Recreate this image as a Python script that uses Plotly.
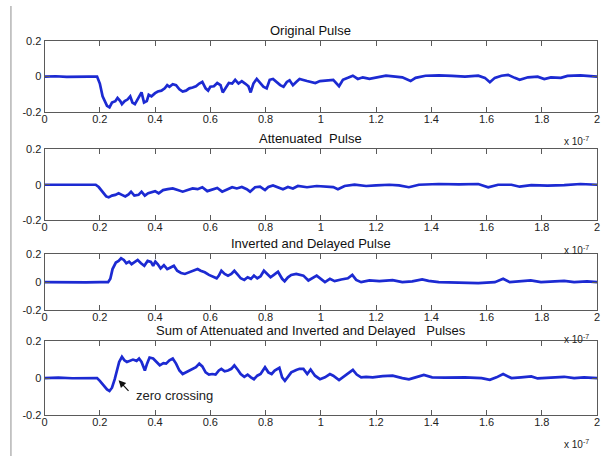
import plotly.graph_objects as go

# time axis in units of 1e-7 s
orig_t = [0, 0.04, 0.08, 0.12, 0.16, 0.19, 0.20, 0.21, 0.226, 0.235, 0.244, 0.256, 0.264, 0.274, 0.28, 0.29, 0.30, 0.31,
          0.318, 0.327, 0.34, 0.351, 0.36, 0.37, 0.377, 0.387, 0.40, 0.41, 0.423, 0.435, 0.444, 0.452, 0.464, 0.476,
          0.488, 0.50, 0.512, 0.524, 0.536, 0.548, 0.56, 0.571, 0.583, 0.592, 0.60, 0.613, 0.625, 0.637, 0.645, 0.655,
          0.667, 0.679, 0.69, 0.702, 0.714, 0.726, 0.738, 0.746, 0.756, 0.768, 0.777, 0.792, 0.804, 0.815, 0.827,
          0.839, 0.853, 0.865, 0.877, 0.887, 0.899, 0.911, 0.923, 0.95, 0.98, 0.997, 1.02, 1.045, 1.066, 1.08, 1.098,
          1.116, 1.134, 1.152, 1.176, 1.20, 1.236, 1.27, 1.295, 1.325, 1.343, 1.379, 1.427, 1.475, 1.522, 1.57, 1.594,
          1.612, 1.63, 1.654, 1.678, 1.702, 1.72, 1.75, 1.785, 1.809, 1.833, 1.869, 1.893, 1.94, 1.976, 2.0]
orig_v = [0.0, 0.002, -0.001, 0.001, 0.0, 0.0, -0.039, -0.111, -0.164, -0.173, -0.146, -0.138, -0.120, -0.138, -0.155,
          -0.138, -0.129, -0.111, -0.146, -0.155, -0.120, -0.089, -0.146, -0.138, -0.102, -0.111, -0.093, -0.084,
          -0.079, -0.066, -0.048, -0.057, -0.043, -0.048, -0.071, -0.084, -0.079, -0.066, -0.061, -0.054, -0.039,
          -0.030, -0.066, -0.079, -0.057, -0.054, -0.036, -0.048, -0.089, -0.066, -0.036, -0.039, -0.018, -0.039,
          -0.025, -0.039, -0.054, -0.089, -0.039, -0.013, -0.030, -0.057, -0.066, -0.018, -0.013, -0.030, -0.048,
          -0.057, -0.030, -0.021, -0.048, -0.030, -0.013, -0.025, -0.036, -0.025, -0.021, -0.018, -0.054, -0.018,
          -0.007, 0.005, -0.013, -0.004, -0.013, -0.007, 0.005, 0.0, -0.004, -0.025, -0.007, 0.005, 0.007, 0.004,
          0.0, 0.005, -0.007, -0.032, -0.007, 0.005, 0.010, -0.007, -0.018, -0.004, 0.0, -0.014, -0.004, -0.007,
          0.004, 0.007, 0.004, 0.0]

att_t = [0, 0.05, 0.10, 0.15, 0.185, 0.196, 0.208, 0.223, 0.232, 0.244, 0.256, 0.268, 0.28, 0.292, 0.304, 0.313,
         0.325, 0.34, 0.351, 0.363, 0.375, 0.387, 0.40, 0.413, 0.429, 0.446, 0.464, 0.482, 0.50, 0.518, 0.536, 0.554,
         0.571, 0.589, 0.607, 0.625, 0.643, 0.66, 0.679, 0.696, 0.714, 0.732, 0.744, 0.762, 0.78, 0.798, 0.81, 0.827,
         0.845, 0.863, 0.881, 0.899, 0.917, 0.95, 0.985, 1.02, 1.045, 1.062, 1.086, 1.122, 1.164, 1.2, 1.248, 1.283,
         1.319, 1.355, 1.427, 1.5, 1.57, 1.606, 1.642, 1.69, 1.72, 1.762, 1.821, 1.881, 1.94, 2.0]
att_v = [0.0, 0.001, -0.001, 0.001, 0.0, -0.013, -0.039, -0.066, -0.071, -0.061, -0.057, -0.048, -0.057, -0.066,
         -0.054, -0.039, -0.061, -0.057, -0.039, -0.061, -0.048, -0.043, -0.036, -0.048, -0.030, -0.025, -0.021,
         -0.030, -0.039, -0.030, -0.021, -0.025, -0.014, -0.036, -0.025, -0.018, -0.039, -0.025, -0.014, -0.021,
         -0.013, -0.025, -0.039, -0.014, -0.011, -0.030, -0.013, -0.004, -0.013, -0.025, -0.013, -0.021, -0.007,
         -0.014, -0.007, -0.011, -0.013, -0.025, -0.007, 0.0, -0.007, -0.004, 0.0, -0.004, -0.014, 0.0, 0.004,
         0.002, 0.004, -0.014, 0.0, 0.0, -0.011, -0.002, -0.005, -0.002, 0.004, 0.0]

inv_t = [0, 0.05, 0.10, 0.15, 0.20, 0.23, 0.238, 0.246, 0.258, 0.268, 0.277, 0.287, 0.296, 0.306, 0.315, 0.325,
         0.337, 0.349, 0.361, 0.373, 0.385, 0.393, 0.401, 0.41, 0.42, 0.432, 0.444, 0.456, 0.468, 0.48, 0.494, 0.508,
         0.524, 0.54, 0.554, 0.565, 0.58, 0.595, 0.61, 0.623, 0.631, 0.64, 0.652, 0.664, 0.676, 0.687, 0.70, 0.71,
         0.723, 0.735, 0.747, 0.758, 0.77, 0.782, 0.794, 0.806, 0.818, 0.83, 0.845, 0.86, 0.869, 0.881, 0.893, 0.911,
         0.923, 0.937, 0.955, 0.973, 0.985, 1.0, 1.015, 1.033, 1.05, 1.074, 1.098, 1.114, 1.128, 1.146, 1.176, 1.212,
         1.26, 1.295, 1.331, 1.367, 1.39, 1.427, 1.5, 1.57, 1.63, 1.66, 1.684, 1.725, 1.76, 1.797, 1.833, 1.881,
         1.917, 1.964, 2.0]
inv_v = [0.0, -0.002, 0.001, -0.002, 0.0, 0.0, 0.024, 0.094, 0.141, 0.153, 0.172, 0.160, 0.136, 0.148, 0.129, 0.146,
         0.160, 0.136, 0.118, 0.153, 0.146, 0.118, 0.148, 0.129, 0.099, 0.122, 0.094, 0.106, 0.118, 0.082, 0.066,
         0.059, 0.071, 0.087, 0.094, 0.082, 0.071, 0.052, 0.042, 0.028, 0.047, 0.082, 0.059, 0.047, 0.059, 0.082,
         0.052, 0.028, 0.016, 0.035, 0.024, 0.047, 0.028, 0.042, 0.082, 0.059, 0.035, 0.052, 0.075, 0.024, 0.007,
         0.035, 0.052, 0.059, 0.052, 0.047, 0.012, 0.035, 0.047, 0.024, 0.0, 0.024, 0.007, 0.019, 0.028, 0.052, 0.016,
         0.0, 0.012, 0.007, 0.014, 0.0, 0.005, 0.019, 0.009, 0.0, -0.005, -0.007, 0.0, 0.024, 0.0, 0.005, 0.012, 0.0,
         0.005, 0.009, 0.0, 0.005, 0.0]

sum_t = [0, 0.05, 0.10, 0.15, 0.19, 0.20, 0.214, 0.226, 0.235, 0.244, 0.254, 0.262, 0.27, 0.28, 0.289, 0.298, 0.31,
         0.32, 0.333, 0.342, 0.351, 0.363, 0.371, 0.38, 0.393, 0.405, 0.417, 0.43, 0.44, 0.452, 0.464, 0.476, 0.488,
         0.50, 0.512, 0.524, 0.536, 0.548, 0.56, 0.571, 0.583, 0.595, 0.607, 0.619, 0.631, 0.64, 0.652, 0.664, 0.676,
         0.687, 0.70, 0.71, 0.723, 0.735, 0.747, 0.758, 0.77, 0.782, 0.798, 0.81, 0.822, 0.833, 0.85, 0.86, 0.87,
         0.882, 0.893, 0.911, 0.923, 0.937, 0.951, 0.963, 0.979, 0.997, 1.015, 1.033, 1.045, 1.066, 1.086, 1.104,
         1.116, 1.13, 1.146, 1.164, 1.188, 1.224, 1.26, 1.295, 1.319, 1.343, 1.373, 1.403, 1.45, 1.522, 1.582, 1.612,
         1.636, 1.66, 1.69, 1.725, 1.762, 1.785, 1.833, 1.881, 1.917, 1.953, 2.0]
sum_v = [0.0, 0.002, -0.001, 0.001, 0.0, -0.015, -0.043, -0.061, -0.070, -0.052, -0.006, 0.050, 0.087, 0.115, 0.096,
         0.087, 0.096, 0.100, 0.093, 0.106, 0.087, 0.041, 0.078, 0.111, 0.106, 0.087, 0.069, 0.081, 0.078, 0.096,
         0.106, 0.078, 0.041, 0.022, 0.031, 0.044, 0.050, 0.059, 0.078, 0.063, 0.031, 0.019, 0.022, 0.019, 0.041,
         0.050, 0.037, 0.041, 0.050, 0.069, 0.044, 0.022, 0.007, 0.019, 0.004, -0.006, 0.013, 0.022, 0.059, 0.031,
         0.022, 0.041, 0.056, 0.004, -0.015, 0.007, 0.031, 0.044, 0.050, 0.050, 0.022, 0.046, 0.013, -0.006, 0.004,
         0.022, 0.013, -0.011, 0.013, 0.031, 0.044, 0.019, 0.004, 0.007, 0.004, 0.011, 0.013, 0.0, -0.007, 0.004,
         0.017, 0.004, 0.002, 0.004, 0.0, -0.009, 0.004, 0.022, 0.0, 0.004, 0.009, -0.002, 0.004, 0.007, 0.0, 0.004,
         0.0]

titles = ["Original Pulse", "Attenuated  Pulse", "Inverted and Delayed Pulse",
          "Sum of Attenuated and Inverted and Delayed   Pulses"]
x_ticks = [0, 0.2, 0.4, 0.6, 0.8, 1, 1.2, 1.4, 1.6, 1.8, 2]
x_ticklabels = ["0", "0.2", "0.4", "0.6", "0.8", "1", "1.2", "1.4", "1.6", "1.8", "2"]
y_ticks = [-0.2, 0, 0.2]
y_ticklabels = ["-0.2", "0", "0.2"]
series = [(orig_t, orig_v), (att_t, att_v), (inv_t, inv_v), (sum_t, sum_v)]

W, H = 604, 462
FONT = "Arial, Liberation Sans, sans-serif"
LINE = "rgb(28,42,210)"
AX = "#5a5a5a"

# panel pixel bounds (top, bottom)
panels = [(36, 109), (147, 220), (255, 312), (344, 420)]
x_left, x_right = 42, 600

fig = go.Figure()
layout = dict(
    width=W, height=H, margin=dict(l=0, r=0, t=0, b=0),
    paper_bgcolor="white", plot_bgcolor="white", showlegend=False,
    font=dict(family=FONT, size=11, color="#222"),
)
annotations = []
for i, ((t, v), (top, bot)) in enumerate(zip(series, panels)):
    n = "" if i == 0 else str(i + 1)
    fig.add_trace(go.Scatter(x=t, y=v, mode="lines", xaxis="x" + n, yaxis="y" + n,
                             line=dict(color=LINE, width=2.7), hoverinfo="skip"))
    layout["xaxis" + n] = dict(
        domain=[x_left / W, x_right / W], anchor="y" + n, range=[0, 2],
        tickvals=x_ticks, ticktext=x_ticklabels, ticks="inside", ticklen=5, tickcolor=AX,
        showline=True, linecolor=AX, linewidth=1, mirror="ticks", showgrid=False, zeroline=False,
        tickfont=dict(family=FONT, size=11, color="#222"), ticklabeloverflow="allow",
        ticklabelstandoff=-3,
    )
    layout["yaxis" + n] = dict(
        domain=[1 - bot / H, 1 - top / H], anchor="x" + n, range=[-0.2, 0.2],
        tickvals=y_ticks, ticktext=y_ticklabels, ticks="inside", ticklen=5, tickcolor=AX,
        showline=True, linecolor=AX, linewidth=1, mirror="ticks", showgrid=False, zeroline=False,
        tickfont=dict(family=FONT, size=11, color="#222"),
    )
    annotations.append(dict(
        text=titles[i], xref="paper", yref="paper", x=311 / W, y=1 - (top - 1) / H,
        xanchor="center", yanchor="bottom", showarrow=False,
        font=dict(family=FONT, size=13, color="#111"),
    ))
    annotations.append(dict(
        text="x 10<sup>-7</sup>", xref="paper", yref="paper", x=594 / W, y=1 - (bot + 30) / H,
        xanchor="right", yanchor="middle", showarrow=False,
        font=dict(family=FONT, size=10, color="#222"),
    ))

# zero crossing annotation (subplot 4)
annotations.append(dict(
    x=0.268, y=-0.012, xref="x4", yref="y4", ax=0.309, ay=-0.077, axref="x4", ayref="y4",
    text="", showarrow=True, arrowhead=2, arrowsize=1.2, arrowwidth=1.2, arrowcolor="#111",
))
annotations.append(dict(
    x=0.322, y=-0.094, xref="x4", yref="y4", text="zero crossing", showarrow=False,
    xanchor="left", yanchor="middle", font=dict(family=FONT, size=13, color="#222"),
))
layout["annotations"] = annotations
layout["shapes"] = [dict(type="line", xref="paper", yref="paper", x0=8 / W, x1=8 / W, y0=0, y1=1,
                         line=dict(color="#b5b5b5", width=1.5))]
fig.update_layout(**layout)
fig.write_html("out.html", config={"displayModeBar": False},
               post_script="document.body.style.margin='0';document.body.style.overflow='hidden';")
